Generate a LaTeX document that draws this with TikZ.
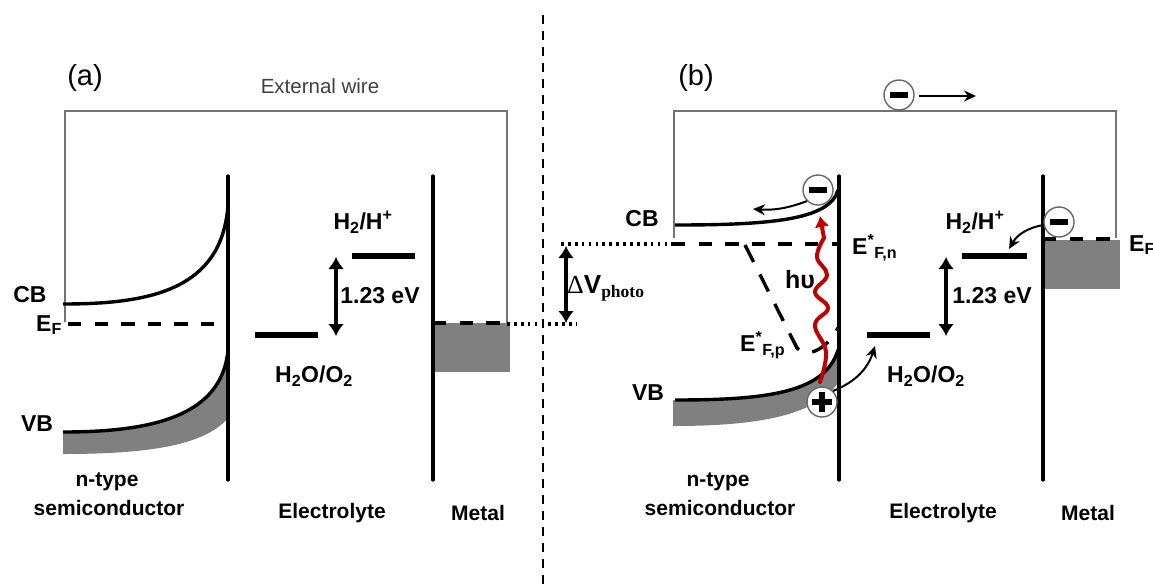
\documentclass[tikz,border=0pt]{standalone}
\usepackage{fontspec}
\setmainfont{Liberation Sans}
\newfontfamily\serifgreek{Liberation Serif}
\usetikzlibrary{arrows.meta}
\tikzset{
  wire/.style={line width=1.8pt, draw=black!55},
  wall/.style={line width=3.4pt, line cap=round},
  band/.style={line width=3.4pt},
  bandfill/.style={fill=black!50},
  level/.style={line width=6.5pt},
  fermi/.style={line width=3.2pt, dash pattern=on 13.3pt off 13.3pt},
  fermislant/.style={line width=3.4pt, dash pattern=on 19pt off 14pt},
  photoline/.style={line width=3.2pt, dash pattern=on 2.7pt off 4.2pt},
  border/.style={line width=2pt, dash pattern=on 9pt off 7pt},
  twohead/.style={line width=3.4pt, {Latex[length=12pt,width=16pt]}-{Latex[length=12pt,width=16pt]}},
  flow/.style={line width=2pt, -{Stealth[length=12pt,width=11pt]}},
  photon/.style={line width=4pt, draw=red!75!black, line cap=round},
  carrier/.style={circle, draw=black!60, line width=1.4pt, fill=white, inner sep=0pt, minimum size=30pt},
  signbar/.style={line width=5.5pt},
  lab/.style={font=\fontsize{21}{24}\selectfont\bfseries, inner sep=0pt},
  midlab/.style={font=\fontsize{23}{26}\selectfont\bfseries, inner sep=0pt},
  bigband/.style={font=\fontsize{23}{26}\selectfont\bfseries, inner sep=0pt},
  panel/.style={font=\fontsize{29}{32}\selectfont, inner sep=0pt}
}
\begin{document}
\begin{tikzpicture}[x=1pt, y=-1pt]
\useasboundingbox (0,0) rectangle (1153,587);
% panel (a)
\draw[wire] (65,322) -- (65,111) -- (507,111) -- (507,323);
\fill[bandfill] (63,432) .. controls (155,432) and (222,415) .. (228,350) -- (228,418) .. controls (205,445) and (150,454) .. (63,454) -- cycle;
\fill[bandfill] (433,323) rectangle (510,372);
\draw[band] (63,304) .. controls (150,304) and (222,290) .. (228,205);
\draw[band] (63,432) .. controls (155,432) and (222,415) .. (228,350);
\draw[wall] (228,176) -- (228,480);
\draw[wall] (433,176) -- (433,480);
\draw[fermi] (68,324) -- (220,324);
\draw[fermi] (433,323) -- (507,323);
\draw[level] (352,256) -- (415,256);
\draw[level] (255,335) -- (318,335);
\draw[twohead] (336,257) -- (336,336);
\draw (85,78) node[panel] (labela) {(a)};
\draw (320,86) node[font=\fontsize{20.5}{24}\selectfont, text=black!75, inner sep=0pt] (extwire) {External wire};
\draw (30,295) node[bigband] (cba) {CB};
\draw (49,325) node[bigband] (efa) {E\textsubscript{F}};
\draw (37,424) node[bigband] (vba) {VB};
\draw (363,222) node[midlab] (hha) {H\textsubscript{2}/H\textsuperscript{+}};
\draw (380,296) node[midlab] (gapa) {1.23 eV};
\draw (314,376) node[midlab] (oxa) {H\textsubscript{2}O/O\textsubscript{2}};
\draw (107,482) node[lab] (ntypea) {n-type};
\draw (109,508) node[lab] (semia) {semiconductor};
\draw (332,513) node[lab] (elya) {Electrolyte};
\draw (478,513) node[lab] (meta) {Metal};
% divider and photovoltage
\draw[border] (543,15) -- (543,587);
\draw[photoline] (507,324) -- (577,324);
\draw[photoline] (561,244) -- (672,244);
\draw[twohead] (566,246) -- (566,323);
\draw (567,288) node[anchor=west, inner sep=0pt] (dvphoto) {\fontsize{26}{28}\selectfont{\serifgreek Δ}\bfseries V\raisebox{-4pt}{\fontsize{17.5}{18}\selectfont\serifgreek photo}};
% panel (b)
\draw[wire] (674,238) -- (674,111) -- (1116,111) -- (1116,238);
\fill[bandfill] (673,400) .. controls (770,400) and (825,392) .. (838,350) -- (838,383) .. controls (815,415) and (760,426) .. (673,426) -- cycle;
\fill[bandfill] (1043,240) rectangle (1120,289);
\draw[band] (675,225) .. controls (770,225) and (830,220) .. (838,190);
\draw[band] (675,400) .. controls (770,400) and (825,392) .. (838,350);
\draw[wall] (839,176) -- (839,480);
\draw[wall] (1043,176) -- (1043,480);
\draw[fermi] (672,244) -- (838,244);
\draw[fermi] (1043,239) -- (1116,239);
\draw[fermislant] (745,245) -- (797,348) .. controls (805,358) and (825,352) .. (838,328);
\draw[level] (962,256) -- (1027,256);
\draw[level] (867,335) -- (930,335);
\draw[twohead] (946,257) -- (946,336);
\draw[photon] plot[smooth, tension=0.7] coordinates {(820,382) (826,352) (815,325) (828,308) (815,292) (827,275) (817,257) (824,238)};
\draw[line width=4pt, draw=red!75!black, -{Latex[length=11pt,width=15pt]}] (824,238) -- (820,216);
\node[carrier] (holeb) at (822,402) {};
\draw[signbar, line width=6.5pt] (812,402) -- (832,402);
\draw[signbar, line width=6.5pt] (822,392) -- (822,412);
\node[carrier] (elecb) at (818,190) {};
\draw[signbar] (809,190) -- (827,190);
\node[carrier] (elecwire) at (899,95) {};
\draw[signbar] (890,95) -- (908,95);
\node[carrier] (elecmetal) at (1059,222) {};
\draw[signbar] (1050,222) -- (1068,222);
\coordinate (wiretip) at (976,96);
\coordinate (cbtip) at (753,209);
\coordinate (oxtip) at (875,346);
\coordinate (hhtip) at (1009,249);
\draw[flow] (elecwire.east) ++(4,1) -- (wiretip);
\draw[flow] (elecb.south west) to[bend left=12] (cbtip);
\draw[flow] (holeb.north east) to[bend right=25] (oxtip);
\draw[flow] (elecmetal.west) ++(0,3) to[bend right=25] (hhtip);
\draw (642,219) node[bigband] (cbb) {CB};
\draw (648,393) node[bigband] (vbb) {VB};
\draw (852,248) node[bigband, anchor=west] (efn) {E\textsuperscript{*}\textsubscript{F,n}};
\draw (740,345) node[bigband, anchor=west] (efp) {E\textsuperscript{*}\textsubscript{F,p}};
\draw (800,280) node[midlab, font=\fontsize{25}{28}\selectfont\bfseries] (hnu) {hυ};
\draw (1129,245) node[bigband, anchor=west] (efb) {E\textsubscript{F}};
\draw (975,222) node[midlab] (hhb) {H\textsubscript{2}/H\textsuperscript{+}};
\draw (992,296) node[midlab] (gapb) {1.23 eV};
\draw (926,376) node[midlab] (oxb) {H\textsubscript{2}O/O\textsubscript{2}};
\draw (718,482) node[lab] (ntypeb) {n-type};
\draw (720,508) node[lab] (semib) {semiconductor};
\draw (943,513) node[lab] (elyb) {Electrolyte};
\draw (1088,513) node[lab] (metb) {Metal};
\draw (696,78) node[panel] (labelb) {(b)};
\end{tikzpicture}
\end{document}
